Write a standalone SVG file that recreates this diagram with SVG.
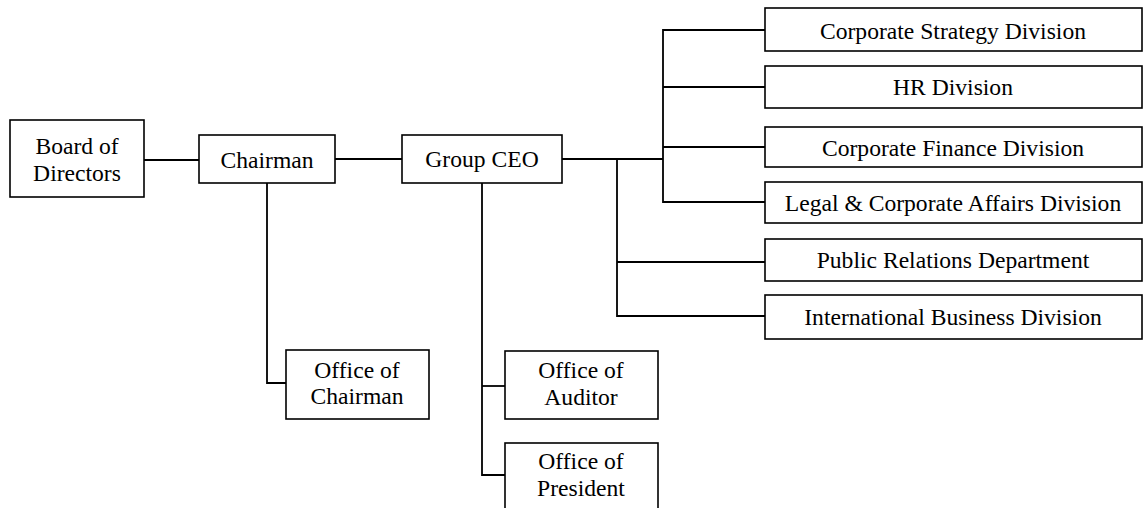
<svg xmlns="http://www.w3.org/2000/svg" width="1145" height="508" viewBox="0 0 1145 508">
<style>
.box{fill:#fff;stroke:#000;stroke-width:1.6}
.ln{fill:none;stroke:#000;stroke-width:1.8}
text{font-family:"Liberation Serif","Times New Roman",serif;font-size:23.6px;fill:#000;text-anchor:middle}
</style>
<rect width="1145" height="508" fill="#fff"/>
<g id="connectors">
<path class="ln" d="M144,160 H199"/>
<path class="ln" d="M335,159 H402"/>
<path class="ln" d="M562,159 H663"/>
<path class="ln" d="M765,30 H663 V202 H765"/>
<path class="ln" d="M663,87 H765"/>
<path class="ln" d="M663,147 H765"/>
<path class="ln" d="M617,159 V316 H765"/>
<path class="ln" d="M617,262 H765"/>
<path class="ln" d="M267,183 V383 H286"/>
<path class="ln" d="M482,183 V475 H505"/>
<path class="ln" d="M482,386 H505"/>
</g>
<g id="board"><rect class="box" x="10" y="120" width="134" height="77"/><text x="77" y="154">Board of</text><text x="77" y="181">Directors</text></g>
<g id="chairman"><rect class="box" x="199" y="135" width="136" height="48"/><text x="267" y="168">Chairman</text></g>
<g id="ceo"><rect class="box" x="402" y="135" width="160" height="48"/><text x="482" y="167">Group CEO</text></g>
<g id="strategy"><rect class="box" x="765" y="8" width="377" height="43"/><text x="953" y="39">Corporate Strategy Division</text></g>
<g id="hr"><rect class="box" x="765" y="66" width="377" height="42"/><text x="953" y="95">HR Division</text></g>
<g id="finance"><rect class="box" x="765" y="127" width="377" height="40"/><text x="953" y="156">Corporate Finance Division</text></g>
<g id="legal"><rect class="box" x="765" y="182" width="377" height="41"/><text x="953" y="211">Legal &amp; Corporate Affairs Division</text></g>
<g id="pr"><rect class="box" x="765" y="239" width="377" height="42"/><text x="953" y="268">Public Relations Department</text></g>
<g id="intl"><rect class="box" x="765" y="295" width="377" height="44"/><text x="953" y="325">International Business Division</text></g>
<g id="office-chairman"><rect class="box" x="286" y="350" width="143" height="69"/><text x="357" y="378">Office of</text><text x="357" y="404">Chairman</text></g>
<g id="office-auditor"><rect class="box" x="505" y="351" width="153" height="68"/><text x="581" y="378">Office of</text><text x="581" y="405">Auditor</text></g>
<g id="office-president"><rect class="box" x="505" y="443" width="153" height="80"/><text x="581" y="469">Office of</text><text x="581" y="496">President</text></g>
</svg>
